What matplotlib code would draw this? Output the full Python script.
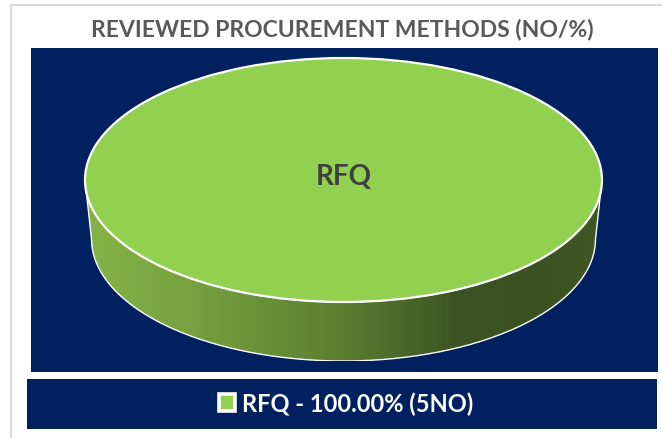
import numpy as np
import matplotlib
matplotlib.use("Agg")
import matplotlib.pyplot as plt
from matplotlib.patches import Rectangle, PathPatch, Patch
from matplotlib.path import Path
from matplotlib.colors import LinearSegmentedColormap

# data
categories = ["RFQ"]
counts = [5]
title = "REVIEWED PROCUREMENT METHODS (NO/%)"

navy = "#002060"
green = "#92d050"

W, H = 662, 439
fig = plt.figure(figsize=(W / 100, H / 100), dpi=100)

# background axes in pixel coords
bg = fig.add_axes([0, 0, 1, 1])
bg.set_xlim(0, W)
bg.set_ylim(H, 0)
bg.axis("off")

# light gray frame lines (top / left)
bg.plot([10, W], [5.5, 5.5], color="#d9d9d9", lw=1.5, solid_capstyle="butt")
bg.plot([10.5, 10.5], [5, H], color="#d9d9d9", lw=1.5, solid_capstyle="butt")

# plot area and legend box
bg.add_patch(Rectangle((31, 49), 627, 324, facecolor=navy, edgecolor="none"))
bg.add_patch(Rectangle((27, 380), 630, 50, facecolor=navy, edgecolor="none"))

bg.text(342, 29.5, title, ha="center", va="center", fontsize=16.5,
        fontweight="bold", color="#595959", family=["Lato", "DejaVu Sans"])

# pie axes: top ellipse x 85..602, y 59..303, side down to 362
depth = 59 / 122.0
shrink = 252 / 258.5
left, right, top, bottom = 85, 602, 59, 362
pax = fig.add_axes([left / W, 1 - bottom / H, (right - left) / W, (bottom - top) / H])

# side of the 3d pie
t = np.linspace(np.pi, 2 * np.pi, 200)
upper = np.column_stack([np.cos(t), np.sin(t)])
lower = np.column_stack([shrink * np.cos(t[::-1]), -depth + np.sin(t[::-1])])
side_path = Path(np.vstack([upper, lower, upper[:1]]))
pax.add_patch(PathPatch(side_path, facecolor="none", edgecolor="white", lw=1.0, zorder=3))

cmap = LinearSegmentedColormap.from_list(
    "side", [(0, "#84b447"), (0.2, "#76a23f"), (0.5, "#5a7e31"),
             (0.72, "#3c5422"), (0.9, "#3a5220"), (1, "#3f5824")])
grad = np.linspace(0, 1, 256).reshape(1, -1)
im = pax.imshow(grad, cmap=cmap, extent=[-1, 1, -1 - depth, 0], aspect="auto", zorder=2)
im.set_clip_path(PathPatch(side_path, transform=pax.transData))

# top of the pie
wedges, texts = pax.pie(counts, labels=categories, colors=[green], startangle=90,
                        labeldistance=0, radius=1, center=(0, 0),
                        wedgeprops=dict(edgecolor="white", linewidth=1.6),
                        textprops=dict(fontsize=20, fontweight="bold", color="#404040",
                                       family=["Lato", "DejaVu Sans"]))
for w in wedges:
    w.set_zorder(4)
for tx in texts:
    tx.set_ha("center")
    tx.set_va("center")
    tx.set_position((0, 0.03))
    tx.set_zorder(5)
pax.set_xlim(-1, 1)
pax.set_ylim(-1 - depth, 1)
pax.set_aspect("auto")
pax.axis("off")

# legend
total = sum(counts)
labels = [f"{c} - {n / total * 100:.2f}% ({n}NO)" for c, n in zip(categories, counts)]
handles = [Patch(facecolor=green, edgecolor="white", linewidth=2.6) for _ in categories]
leg = fig.legend(handles, labels, loc="center", bbox_to_anchor=(346 / W, 1 - 404 / H),
                 frameon=False, handlelength=0.68, handleheight=0.72, handletextpad=0.32,
                 prop=dict(family=["Lato", "DejaVu Sans"], weight="bold", size=17))
for tx in leg.get_texts():
    tx.set_color("white")

fig.savefig("out.png", dpi=100)
